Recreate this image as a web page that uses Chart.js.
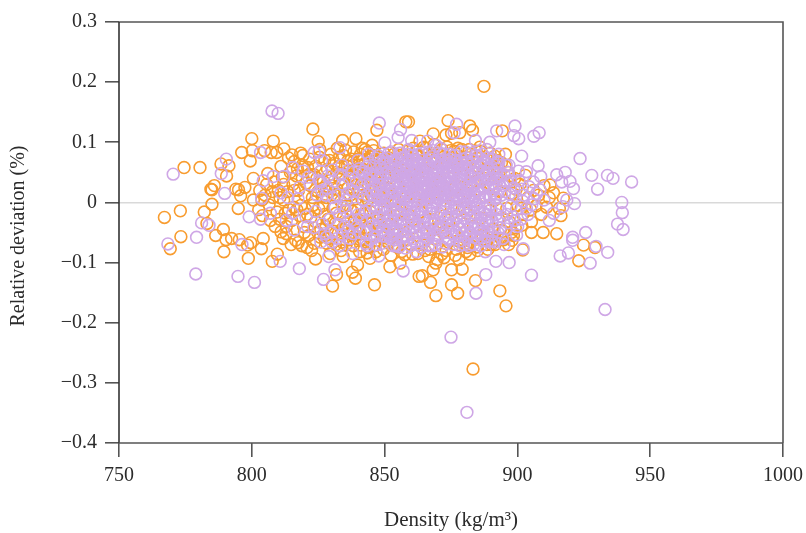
<!DOCTYPE html>
<html><head><meta charset="utf-8">
<style>html,body{margin:0;padding:0;background:#fff}canvas{display:block}</style>
<script src="https://cdn.jsdelivr.net/npm/chart.js@4"></script></head>
<body><canvas id="c" width="806" height="533"></canvas>
<script>
const xTicks=[750,800,850,900,950,1000];
const yTicks=[0.3,0.2,0.1,0,-0.1,-0.2,-0.3,-0.4];
const xTitle="Density (kg/m³)";
const yTitle="Relative deviation (%)";
const orangeOuter=[[774.5,.058],[780.5,.058],[767.1,-.025],[773.1,-.014],[773.3,-.057],[769.3,-.077],[788.4,.064],[791.4,.061],[790.5,.044],[785.9,.028],[784.6,.022],[785,.021],[785,-.003],[782.1,-.016],[783.1,-.035],[786.4,-.055],[789.3,-.045],[790.3,-.062],[792.4,-.06],[795.3,-.062],[789.5,-.082],[798.7,-.093],[799.6,-.067],[798.4,-.071],[803.6,-.077],[804.3,-.06],[809.6,-.086],[807.7,-.098],[800,.106],[796.2,.083],[800.2,.086],[799.4,.069],[804.8,.086],[808.1,.102],[807.3,.083],[809.4,.083],[812.1,.089],[815.1,.079],[818.4,.082],[823,.122],[825,.101],[800.6,.04],[794,.022],[795,.021],[797.4,.025],[795.8,.011],[794.9,-.01],[800.6,.004],[887.4,.193],[847.1,.12],[858,.134],[859,.134],[873.9,.136],[882.1,.127],[883.1,.12],[873.1,.112],[868.3,.114],[878.3,.116],[875.2,.115],[894.3,.119],[839.2,.106],[834.2,.103],[835.3,.087],[845.3,.095],[842.6,.088],[843.5,.084],[863.3,.102],[895.5,.08],[891.5,.077],[839.8,-.104],[837.9,-.116],[839,-.126],[831.9,-.12],[830.4,-.139],[846.2,-.137],[852,-.107],[863,-.123],[864.2,-.122],[867.3,-.133],[869.3,-.155],[868.3,-.112],[869.3,-.101],[869.8,-.095],[875.2,-.112],[879.2,-.111],[875.2,-.137],[877.5,-.151],[884.2,-.13],[893.4,-.147],[895.7,-.172],[878,-.095],[882.1,-.086],[893.8,-.06],[898,-.063],[902,-.079],[905.3,-.05],[909.7,-.05],[901.6,-.038],[905.3,-.032],[897.8,-.05],[834.4,-.09],[844.5,-.093],[855.8,-.101],[857.6,-.087],[883.3,-.277],[914.8,-.052],[924.9,-.071],[929.2,-.075],[923.1,-.097],[916.4,-.022],[917.3,.007],[915.8,-.01],[913.6,.016],[912.3,.029],[822.5,-.08],[824,-.094],[823.5,-.068],[829.5,-.085],[816.5,-.063],[817.5,-.067],[813,-.052],[811,-.049],[834,-.066],[841,-.071],[827.5,.07],[826,.052]];
const orangeCore=[[803,.02],[805,.012],[806.5,-.004],[804,-.022],[807,-.03],[808.5,.034],[806,.048],[811,.06],[810,.02],[812,.004],[810.5,-.028],[813,-.04],[814.5,.05],[815.5,.03],[816,.068],[817,-.012],[818,-.022],[819,.04],[820,.012],[819.5,-.04],[821,.058],[821.5,-.055],[822,.028],[823,-.005],[823.5,.046],[824,-.032],[825,.018],[825.5,.075],[826,-.045],[827,.035],[827.5,-.02],[828,.008],[828.5,.055],[829,-.06],[830,.042],[830.5,-.01],[831,.065],[831.5,-.035],[832,.022],[832.5,-.052],[833,.075],[833.5,.002],[834,.048],[834.5,-.025],[835,.03],[835.5,-.07],[836,.06],[836.5,-.042],[837,.012],[837.5,.072],[838,-.015],[838.5,.04],[839,-.055],[839.5,.055],[840,.02],[840.5,-.03],[841,.08],[841.5,.005],[842,-.062],[842.5,.045],[843,-.018],[843.5,.062],[844,.028],[844.5,-.045],[845,.012],[845.5,.078],[846,-.072],[846.5,.038],[847,-.008],[847.5,.058],[848,-.038],[848.5,.02],[849,-.058],[849.5,.07],[850,.002],[850.5,.04],[851,-.026],[851.5,-.068],[852,.062],[852.5,.014],[853,-.048],[853.5,.08],[854,.03],[854.5,-.012],[855,-.075],[855.5,.05],[856,-.034],[856.5,.072],[857,.006],[857.5,-.056],[858,.042],[858.5,.085],[859,-.02],[859.5,.024],[860,-.07],[860.5,.064],[861,-.042],[861.5,.01],[862,.078],[862.5,-.085],[863,.036],[863.5,-.016],[864,.056],[864.5,-.052],[865,.004],[865.5,.09],[866,-.03],[866.5,.028],[867,-.078],[867.5,.068],[868,-.01],[868.5,.046],[869,-.06],[869.5,.018],[870,.082],[870.5,-.04],[871,.034],[871.5,-.086],[872,.058],[872.5,-.022],[873,.012],[873.5,.092],[874,-.066],[874.5,.04],[875,-.006],[875.5,.072],[876,-.046],[876.5,.026],[877,-.078],[877.5,.06],[878,.006],[878.5,-.032],[879,.088],[879.5,.044],[880,-.058],[880.5,.016],[881,-.018],[881.5,.074],[882,-.07],[882.5,.032],[883,.052],[883.5,-.04],[884,.002],[884.5,.085],[885,-.08],[885.5,.022],[886,-.026],[886.5,.062],[887,-.055],[887.5,.04],[888,.01],[888.5,-.07],[889,.07],[889.5,-.014],[890,.03],[890.5,-.045],[891,.056],[891.5,.004],[892,-.062],[892.5,.042],[893,-.028],[893.5,.018],[894,.066],[894.5,-.048],[895,.034],[896,-.01],[896.5,.05],[897,-.032],[898,.015],[898.5,-.055],[899,.04],[900,-.005],[901,.03],[902,-.02],[903,.045],[904,.008],[905,-.012],[906,.02],[907,-.006],[908,.012],[909,-.02],[910,.028],[911,-.008],[912,.008],[848,.05],[852,.022],[856,.055],[860,.048],[864,.07],[868,.02],[872,-.05],[876,.06],[880,-.01],[884,.035],[842,.07],[844,-.075],[846,.055],[838,.03],[836,-.005],[840,-.042],[832,.05],[828,-.04],[824,.06],[820,-.01],[816,.02],[812,.03]];
const orangeDense=[[826.5,.01],[828.7,-.028],[830.2,.028],[831.8,-.018],[833.2,.038],[834.8,.012],[835.2,-.035],[836.8,.044],[837.2,-.012],[838.2,.062],[838.8,-.03],[839.2,.006],[840.2,.048],[840.8,-.062],[841.2,.03],[841.8,-.02],[842.2,.012],[842.8,.066],[843.2,-.042],[843.8,.004],[844.2,.054],[844.8,-.016],[845.2,.036],[845.8,-.056],[846.2,.02],[846.8,.068],[847.2,-.03],[847.8,.008],[848.2,.074],[848.8,-.05],[849.2,.034],[849.8,-.012],[850.2,.056],[850.8,-.064],[851.2,.012],[851.8,.042],[852.2,-.036],[852.8,.07],[853.2,.002],[853.8,-.022],[854.2,.048],[854.8,-.054],[855.2,.024],[855.8,.078],[856.2,-.014],[856.8,-.066],[813.5,.018],[815,-.03],[816.8,.044],[818.5,-.005],[820.5,.032],[822.2,-.025],[824.5,.04],[825.8,-.058],[827.2,.024],[829.2,.07],[830.8,-.048],[832.8,.06],[808,.008],[809.5,-.016],[811.5,.042],[814,-.012],[817.2,.056],[819.8,-.05],[821.8,.072],[822.8,.008],[825.2,-.01],[828.2,-.068],[831.2,.012],[833.8,-.045],[836.2,.024],[837.8,-.05],[839.8,.072],[842.4,.026],[845.4,-.034],[848.4,.01],[858.2,.01],[860.2,-.03],[862.2,.05],[864.2,-.07],[866.2,.08],[868.2,-.045],[870.2,.055],[872.2,.075],[874.2,-.03],[876.2,.085],[878.2,-.065],[880.2,.065],[882.2,.08],[884.2,-.06],[886.2,.085],[888.2,.055],[890.2,-.07],[892.2,.07],[858.8,-.062],[861.8,.084],[865.2,-.08],[869.2,.072],[873.2,-.08],[877.2,.08],[881.2,-.075],[885.2,.06],[889.2,-.05]];
const orangeFringe=[[836.3,.07],[838.4,.084],[840.3,.062],[841.6,.09],[843.9,.072],[845.9,.086],[847.3,.07],[849.7,.082],[851.7,.074],[855.3,.088],[860.8,.09],[864.8,.092],[868.6,.096],[871.6,.088],[874.8,.086],[877.6,.09],[881.9,.088],[885.9,.092],[889.7,.082],[892.8,.06],[895.4,.06],[897.3,.044],[899.5,.022],[838.2,-.072],[840.6,-.082],[843.4,-.084],[846.8,-.082],[849.6,-.078],[852.4,-.088],[856.4,-.082],[860.6,-.086],[866.6,-.09],[872.4,-.092],[876.6,-.088],[880.6,-.082],[884.8,-.074],[888.9,-.078],[891.6,-.07],[894.8,-.062],[896.7,-.07],[899.2,-.042],[901.4,-.01],[829.4,.018],[826.8,-.005],[823.8,.02],[821,-.02],[819,.062],[817.6,.02],[815.8,-.008],[812.6,-.018],[810.6,.008],[807.8,.018],[805.6,.03],[803.8,.004],[802.6,-.012],[808.8,-.04],[811.8,-.06],[814.8,-.07],[818.8,-.072],[820.8,-.075],[824.8,-.05],[827.8,-.055],[831.6,-.07],[833.6,-.08],[836.6,-.062],[813.8,.074],[819.2,.078],[822.4,.046],[825.6,.088],[829.8,.08],[832.2,.09],[834.6,.078]];
const purpleOuter=[[770.4,.047],[807.6,.152],[809.9,.148],[790.4,.072],[788.5,.048],[789.8,.015],[781.1,-.034],[783.9,-.038],[768.4,-.069],[779.2,-.058],[778.9,-.119],[794.8,-.123],[801,-.133],[796.3,-.07],[810.7,-.098],[817.9,-.11],[827,-.128],[799,-.024],[803.3,.083],[825.3,.084],[826.3,.07],[804.3,.036],[808.1,.043],[803.7,.007],[803.3,-.028],[923.6,.073],[928,.045],[930.2,.022],[933.9,.045],[936,.04],[943,.034],[939.3,0],[939.5,-.017],[937.7,-.036],[939.8,-.045],[925.7,-.05],[920.8,-.058],[920.8,-.063],[929.6,-.073],[934,-.083],[916.1,-.089],[919.2,-.084],[927.4,-.101],[933,-.178],[918,.05],[914.8,.046],[916.7,.034],[919.8,.035],[921.1,.023],[921.5,-.002],[918.6,.004],[913.6,-.018],[917.1,-.007],[848,.132],[856,.121],[855.1,.108],[850.1,.099],[833.2,.091],[860.2,.103],[866.2,.102],[869.3,.095],[877.1,.13],[876.2,.116],[884.2,.103],[892.2,.119],[899.1,.127],[898.7,.111],[900.5,.106],[906.2,.11],[908.2,.116],[889.6,.1],[901.6,.077],[896.8,.062],[903.4,.051],[907.8,.061],[908.8,.043],[901.6,.022],[907.2,.015],[908.5,.021],[857,-.114],[847.8,-.089],[862,-.082],[891.9,-.098],[896.9,-.1],[888.1,-.12],[884.4,-.151],[905.3,-.121],[902.2,-.077],[899.7,-.054],[887.9,-.082],[831.3,-.112],[875,-.224],[881,-.349],[823.5,.083],[815.5,.058],[812,.043],[818,.025],[811,.016],[807,-.018],[813,-.03],[816,-.046],[821,-.04],[826,-.066],[829,-.09],[833,-.072],[838,-.085],[843,-.068],[902,.002],[904,-.02],[906,.034],[910,.004],[912,-.03],[895,-.07],[899,-.03],[893,.08],[896,.035]];
const purpleCore=[[822,.03],[824,-.015],[826,.052],[828,.012],[830,-.05],[831,.035],[833,-.02],[834,.062],[835,-.04],[836,.015],[837,-.06],[838,.05],[839,-.01],[840,.07],[841,-.05],[841.5,.028],[842,.005],[843,.058],[843.5,-.03],[844,.08],[844.5,-.062],[845,.03],[845.5,-.005],[846,.06],[846.5,-.045],[847,.012],[847.5,.078],[848,-.024],[848.5,.042],[849,-.068],[849.5,.02],[850,.066],[850.5,-.038],[851,.004],[851.5,.05],[852,-.058],[852.5,.084],[853,.026],[853.5,-.014],[854,.06],[854.5,-.046],[855,.036],[855.5,-.074],[856,.008],[856.5,.074],[857,-.028],[857.5,.046],[858,-.056],[858.5,.016],[859,.088],[859.5,-.01],[860,.056],[860.5,-.04],[861,.03],[861.5,-.066],[862,.068],[862.5,0],[863,-.024],[863.5,.044],[864,.082],[864.5,-.05],[865,.02],[865.5,-.008],[866,.06],[866.5,-.072],[867,.036],[867.5,-.034],[868,.076],[868.5,.008],[869,-.054],[869.5,.05],[870,-.016],[870.5,.024],[871,.09],[871.5,-.042],[872,.004],[872.5,.064],[873,-.068],[873.5,.032],[874,-.026],[874.5,.08],[875,.014],[875.5,-.052],[876,.044],[876.5,-.006],[877,.07],[877.5,-.036],[878,.022],[878.5,-.064],[879,.056],[879.5,-.014],[880,.036],[880.5,.084],[881,-.046],[881.5,.006],[882,.062],[882.5,-.026],[883,.026],[883.5,-.07],[884,.048],[884.5,-.004],[885,.076],[885.5,-.038],[886,.016],[886.5,-.058],[887,.052],[887.5,-.018],[888,.03],[888.5,.088],[889,-.048],[889.5,.008],[890,.06],[890.5,-.03],[891,.02],[891.5,-.066],[892,.04],[892.5,-.01],[893,.066],[893.5,-.042],[894,.012],[895,.046],[896,-.02],[897,.014],[854,.002],[856,.028],[858,-.004],[860,.012],[862,.03],[864,.01],[866,.04],[868,.03],[870,.006],[872,.03],[874,.05],[876,.02],[878,-.01],[880,.01],[855,.045],[857,.056],[859,.036],[861,.062],[863,-.04],[865,-.03],[867,-.052],[869,-.03],[871,-.02],[873,-.01],[851,.02],[853,-.03],[849,.01],[847,-.01],[845,.046],[850,-.018],[852,.038],[854,-.062],[856,-.03],[858,-.04],[860,-.02],[862,-.05],[864,-.012],[866,.018],[868,-.018],[870,.07],[872,.05],[874,.01],[876,-.03],[878,.05],[880,-.04],[882,.01],[884,.03],[886,-.02],[888,.01],[890,.04],[892,-.02],[857,.02],[859,.004],[861,-.008],[863,.016],[865,.038],[867,.006],[869,.014],[871,.042],[873,.022],[875,.034],[877,.012],[879,.028],[881,.022],[883,.042],[885,.02],[887,.008],[889,.024],[851,.06],[855,.072],[859,.07],[863,.066],[867,.062],[871,.06],[875,.062],[879,.072],[883,.07],[887,.07],[853,-.06],[857,-.066],[861,-.06],[865,-.064],[869,-.07],[873,-.05],[877,-.05],[881,-.06],[885,-.06],[889,-.065]];
const purpleDense=[[846.3,.024],[847.4,-.04],[848.1,.03],[848.7,-.008],[849.3,.054],[849.9,-.03],[850.4,.012],[850.9,.074],[851.3,-.05],[851.8,.032],[852.1,-.012],[852.7,.048],[853.1,.008],[853.7,-.042],[854.1,.03],[854.6,.07],[855.1,-.02],[855.7,.012],[856.1,.05],[856.6,-.056],[857.1,.034],[857.7,-.012],[858.1,.062],[858.6,.028],[859.1,-.03],[859.7,.046],[860.1,.002],[860.7,.078],[861.1,-.018],[861.6,.04],[862.1,.016],[862.7,-.036],[863.1,.056],[863.6,.004],[864.1,.03],[864.7,-.024],[865.1,.05],[865.7,.01],[866.1,-.044],[866.7,.026],[867.1,.072],[867.7,-.006],[868.1,.04],[868.7,-.03],[869.1,.058],[869.7,.002],[870.1,.032],[870.7,-.046],[871.1,.012],[871.7,.068],[872.1,-.008],[872.7,.04],[873.1,.002],[873.7,-.038],[874.1,.058],[874.7,.024],[875.1,-.018],[875.7,.048],[876.1,.004],[876.7,.07],[877.1,-.022],[877.7,.034],[878.1,-.044],[878.7,.014],[879.1,.064],[879.7,-.026],[880.1,.048],[880.7,-.002],[881.1,.032],[881.7,-.054],[882.1,.044],[882.7,.002],[883.1,.07],[883.7,-.018],[884.1,.014],[884.7,-.044],[885.1,.04],[885.7,.008],[886.1,.064],[886.7,-.034],[887.1,.024],[887.7,-.01],[888.1,.044],[888.7,-.056],[889.1,.054],[889.7,.012],[890.1,-.012],[890.7,.032],[891.1,-.042],[891.7,.05],[892.1,.014],[892.7,-.05],[893.1,.03],[894.1,-.024],[855.4,.004],[856.4,-.004],[857.4,.008],[858.4,.042],[859.4,.018],[860.4,.028],[861.4,.048],[862.4,-.014],[863.4,.024],[864.4,.044],[865.4,.028],[866.4,.004],[867.4,.052],[868.4,.02],[869.4,.03],[870.4,.014],[871.4,.024],[872.4,.014],[873.4,.044],[874.4,.032],[875.4,.006],[876.4,.03],[877.4,.056],[878.4,.04],[859.8,.054],[861.8,.02],[863.8,.036],[865.8,.062],[867.8,.018],[869.8,.04],[871.8,.048],[873.8,.018],[875.8,.024],[857.8,.03],[855.8,.016],[853.8,.018],[851.9,.002],[849.4,.042],[847.6,.03],[845.6,.012],[844.6,.036],[843.6,.012],[842.6,-.016],[841.6,.048],[840.6,.016],[839.4,.034],[838.6,-.036],[837.6,.02],[836.6,.04],[835.6,.004],[834.4,-.008],[832.6,.012],[830.6,.008],[828.6,.044],[826.6,-.036],[824.6,.012],[882.6,-.036],[884.6,.058],[886.6,.036],[888.6,-.034],[890.6,.072],[892.6,.056],[894.6,.028],[895.6,-.044],[896.6,.05],[897.6,-.006],[898.6,.024],[899.6,-.012],[900.6,.036],[900.1,-.04],[870.3,-.056],[866.3,-.06],[862.3,-.07],[858.3,-.056],[854.3,-.072],[850.3,-.056],[846.3,-.058],[874.3,-.062],[878.3,-.072],[882.3,-.05],[886.3,-.072],[890.3,-.054],[848.3,.066],[852.3,.068],[856.3,.082],[860.3,.078],[864.3,.07],[868.3,.086],[872.3,.08],[876.3,.078],[880.3,.06],[884.3,.078],[888.3,.066],[863.6,.012],[864.9,.018],[866.8,.012],[868.9,.032],[870.8,.038],[872.9,.04],[874.8,.042],[876.9,.01],[878.9,.02],[880.9,.014],[882.9,.028],[884.9,.034],[862.8,.04],[860.8,.036],[858.8,.024],[856.8,.04],[854.8,.056],[852.8,.016],[850.8,.03],[848.8,.016],[857.2,-.046],[859.2,-.05],[861.2,-.03],[863.2,-.02],[865.2,-.042],[867.2,-.018],[869.2,-.042],[871.2,-.034],[873.2,-.026],[875.2,-.038],[877.2,-.01],[879.2,-.052],[881.2,-.032],[883.2,-.024],[885.2,-.012],[887.2,-.048],[889.2,-.026],[855.2,-.01],[853.2,-.05],[851.2,-.03],[849.2,-.046],[847.2,-.056],[845.2,-.024],[843.2,-.05],[864,.055],[866,.048],[868,.05],[870,.045],[872,.058],[874,.068],[858,.052],[856,.064],[860,.066],[862,.058],[876,.06],[878,.062],[880,.056]];
const purpleFringe=[[843.6,.038],[844.2,.066],[845.4,.02],[846.6,.074],[847.1,.046],[848.6,.058],[849.7,.072],[850.6,.048],[851.6,.082],[853.4,.07],[855.6,.082],[857.6,.076],[853.3,-.072],[851.7,-.04],[849.6,-.056],[848.4,-.034],[846.8,-.07],[845.8,-.038],[844.3,-.012],[843.4,-.072],[842.4,.034],[841.3,-.028],[840.4,.056],[839.6,-.04],[838.4,.018],[837.4,-.03],[836.4,.054],[835.4,-.014],[834.2,.03],[833.4,.046],[832.4,-.036],[831.4,-.008],[830.4,.054],[829.4,-.028],[828.4,.024],[827.4,-.052],[826.4,.02],[825.4,.036],[823.4,-.042],[821.4,.042],[820.4,-.024],[819.4,.052],[817.4,.006],[815.4,-.018],[813.6,.008],[881.4,.052],[882.4,-.01],[883.4,.058],[884.4,-.026],[885.4,.05],[886.4,-.046],[887.4,.066],[888.4,-.02],[889.4,.038],[890.4,-.064],[891.4,.024],[892.4,.068],[893.4,-.012],[893.8,.044],[894.4,-.06],[895.3,.018],[895.8,.062],[896.4,-.034],[897.4,.036],[898.4,-.024],[899.4,.01],[900.4,.052],[901.4,-.028],[902.4,.012],[903.4,-.01],[904.4,.026],[905.4,-.004],[906.4,.006],[887.6,-.064],[885.8,-.05],[883.8,-.058],[881.8,-.072],[879.8,-.07],[877.8,-.056],[875.8,-.07],[873.8,-.06],[871.8,-.074],[869.8,-.062],[867.8,-.072],[865.8,-.05],[863.8,-.074],[861.8,-.05],[859.8,-.072],[857.8,-.076],[855.8,-.05],[882.8,.082],[880.8,.074],[878.8,.084],[876.8,.062],[874.8,.072],[872.8,.07],[870.8,.082],[868.8,.068],[866.8,.084],[864.8,.062],[862.8,.08],[860.8,.07],[858.8,.08],[886.8,.08],[888.8,.074],[890.8,.048],[892.8,.038],[891.8,.008],[889.8,-.004],[887.8,-.03],[885.8,.002],[883.8,.01],[881.8,-.012],[879.8,.004],[877.8,.004],[856.2,-.02],[854.2,-.03],[852.2,-.022],[850.2,-.008],[848.2,.004],[846.2,.004],[844.2,.048],[842.2,.052],[840.2,-.02],[838.2,-.052],[836.2,-.048],[834.2,-.054],[832.2,-.06],[830.2,-.066],[828.2,-.058],[826.2,.034]];
const orangePts=orangeOuter.concat(orangeCore,orangeDense,orangeFringe).map(p=>({x:p[0],y:p[1]}));
const purplePts=purpleOuter.concat(purpleCore,purpleDense,purpleFringe).map(p=>({x:p[0],y:p[1]}));
const INK='#555555', TXT='#2b2b2b', FONT='"Liberation Serif"';
const frame={id:'frame',afterDraw(ch){const a=ch.chartArea,g=ch.ctx;g.save();g.strokeStyle=INK;g.lineWidth=1.6;g.beginPath();g.moveTo(a.left,a.top);g.lineTo(a.right,a.top);g.lineTo(a.right,a.bottom);g.stroke();g.strokeStyle='#333';g.beginPath();g.moveTo(a.left,a.top);g.lineTo(a.left,a.bottom);g.stroke();g.strokeStyle=INK;g.beginPath();g.moveTo(a.left,a.bottom);g.lineTo(a.right,a.bottom);g.stroke();
g.translate(19,236);g.rotate(-Math.PI/2);g.fillStyle=TXT;g.font='20px '+FONT;g.textAlign='center';g.textBaseline='middle';g.fillText(yTitle,0,0);g.restore();}};
new Chart(document.getElementById('c'),{type:'scatter',plugins:[frame],
data:{datasets:[
{data:orangePts,pointRadius:5.9,pointHoverRadius:5.9,borderColor:'#F89C2F',backgroundColor:'rgba(0,0,0,0)',borderWidth:1.6,pointBorderWidth:1.6,clip:false,order:2},
{data:purplePts,pointRadius:5.9,pointHoverRadius:5.9,borderColor:'#CFA7E6',backgroundColor:'rgba(0,0,0,0)',borderWidth:1.6,pointBorderWidth:1.6,clip:false,order:1}]},
options:{responsive:false,animation:false,devicePixelRatio:1,
layout:{padding:{top:22,right:23,left:0,bottom:0}},
plugins:{legend:{display:false},tooltip:{enabled:false}},
scales:{
x:{type:'linear',min:750,max:1000,afterFit(s){s.height=90;s.paddingLeft=0;s.paddingRight=0;},
afterBuildTicks(s){s.ticks=xTicks.map(v=>({value:v}));},
border:{display:false},
grid:{color:'rgba(0,0,0,0)',tickColor:INK,tickLength:14,lineWidth:1.6,drawOnChartArea:false},
ticks:{color:TXT,font:{family:FONT,size:20},maxRotation:0,padding:7,callback:v=>String(v)},
title:{display:true,text:xTitle,color:TXT,font:{family:FONT,size:21},padding:{top:14,bottom:0}}},
y:{type:'linear',min:-0.4,max:0.3,afterFit(s){s.width=119;s.paddingTop=0;s.paddingBottom=0;},
afterBuildTicks(s){s.ticks=yTicks.map(v=>({value:v}));},
border:{display:false},
grid:{color:c=>c.tick&&c.tick.value===0?'#d9d9d9':'rgba(0,0,0,0)',tickColor:INK,tickLength:14,lineWidth:1.6},
ticks:{color:TXT,font:{family:FONT,size:20},padding:8,callback:v=>{if(v===0)return '0';return (v<0?'−':'')+Math.abs(v).toFixed(1);}},
title:{display:false}}
}}});
</script></body></html>
